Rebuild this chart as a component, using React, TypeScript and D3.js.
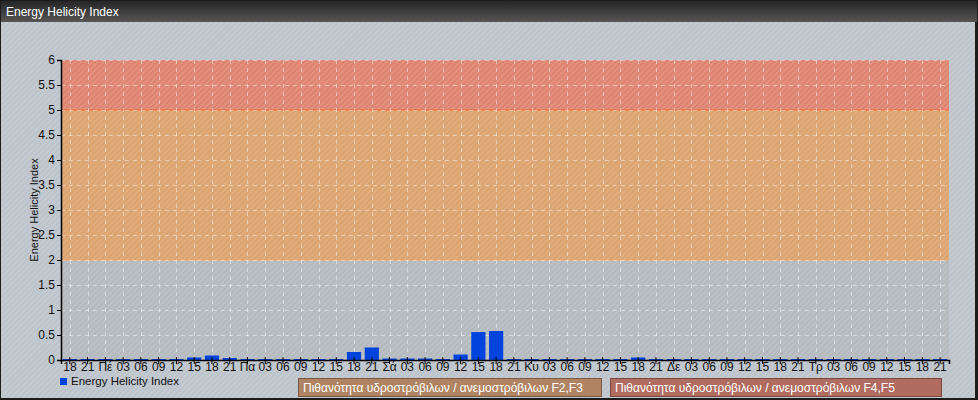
import React, {useEffect, useRef} from 'react';
import * as d3 from 'd3';

const hours = ['03', '06', '09', '12', '15', '18', '21'];
const days = ['Πέ', 'Πα', 'Σά', 'Κυ', 'Δε', 'Τρ'];
const categories: string[] = ['18', '21', ...days.flatMap(d => [d, ...hours])];

const helicity = [
  0.02, 0.02, 0.02, 0.02, 0.02, 0.02, 0.02, 0.05, 0.09, 0.04,
  0.02, 0.02, 0.02, 0.02, 0.02, 0.02, 0.16, 0.25, 0.03, 0.03,
  0.03, 0.02, 0.11, 0.56, 0.58, 0.02, 0.02, 0.02, 0.02, 0.02,
  0.02, 0.02, 0.05, 0.02, 0.02, 0.02, 0.02, 0.02, 0.02, 0.02,
  0.02, 0.02, 0.02, 0.02, 0.02, 0.02, 0.02, 0.02, 0.02, 0.02,
];

const yTicks = [0, 0.5, 1, 1.5, 2, 2.5, 3, 3.5, 4, 4.5, 5, 5.5, 6];

const bands = [
  {from: 0, to: 2, color: '#b4b9be'},
  {from: 2, to: 5, color: '#dca36f'},
  {from: 5, to: 6, color: '#de8370'},
];

const legendBands = [
  {label: 'Πιθανότητα υδροστρόβιλων / ανεμοστρόβιλων F2,F3', fill: '#b08462', stroke: '#7a5a40'},
  {label: 'Πιθανότητα υδροστρόβιλων / ανεμοστρόβιλων F4,F5', fill: '#b06c60', stroke: '#7a4840'},
];

const W = 978;
const H = 400;
const font = '"Liberation Sans", Arial, sans-serif';

export default function App() {
  const ref = useRef<SVGSVGElement>(null);

  useEffect(() => {
    const svg = d3.select(ref.current);
    svg.selectAll('*').remove();

    const margin = {top: 60, left: 61, right: 29, bottom: 40};
    const plotW = W - margin.left - margin.right;
    const plotH = H - margin.top - margin.bottom;

    const defs = svg.append('defs');
    const pat = defs.append('pattern')
        .attr('id', 'hatch')
        .attr('patternUnits', 'userSpaceOnUse')
        .attr('width', 4)
        .attr('height', 4)
        .attr('patternTransform', 'rotate(45)');
    pat.append('rect').attr('width', 2).attr('height', 4).attr('fill', 'rgba(255,255,255,0.11)');

    const grad = defs.append('linearGradient')
        .attr('id', 'titlebar')
        .attr('x1', 0).attr('y1', 0).attr('x2', 0).attr('y2', 1);
    grad.append('stop').attr('offset', '0%').attr('stop-color', '#262626');
    grad.append('stop').attr('offset', '100%').attr('stop-color', '#555555');

    // frame + background
    svg.append('rect').attr('width', W).attr('height', H).attr('fill', '#1c1c1c');
    svg.append('rect').attr('x', 1).attr('y', 1).attr('width', W - 2).attr('height', 21)
        .attr('fill', 'url(#titlebar)');
    svg.append('rect').attr('x', 1).attr('y', 22).attr('width', W - 4).attr('height', H - 24)
        .attr('fill', '#bcc3ca');
    svg.append('rect').attr('x', 1).attr('y', 22).attr('width', W - 4).attr('height', H - 24)
        .attr('fill', 'url(#hatch)');

    svg.append('text')
        .attr('x', 6).attr('y', 16)
        .attr('fill', '#ffffff')
        .style('font-family', font)
        .style('font-size', '12px')
        .text('Energy Helicity Index');

    const x = d3.scaleBand<number>()
        .domain(d3.range(categories.length))
        .range([margin.left, margin.left + plotW])
        .padding(0);

    const y = d3.scaleLinear()
        .domain([0, 6])
        .range([margin.top + plotH, margin.top]);

    const g = svg.append('g');

    // plot bands
    g.selectAll('.band')
        .data(bands)
        .enter().append('rect')
        .attr('x', margin.left)
        .attr('width', plotW)
        .attr('y', d => y(d.to))
        .attr('height', d => y(d.from) - y(d.to))
        .attr('fill', d => d.color);
    g.append('rect')
        .attr('x', margin.left).attr('y', margin.top)
        .attr('width', plotW).attr('height', plotH)
        .attr('fill', 'url(#hatch)');
    g.append('line')
        .attr('x1', margin.left).attr('x2', margin.left + plotW)
        .attr('y1', y(5)).attr('y2', y(5))
        .attr('stroke', '#f07848').attr('stroke-width', 1.5);
    g.append('line')
        .attr('x1', margin.left).attr('x2', margin.left + plotW)
        .attr('y1', y(2) + 0.5).attr('y2', y(2) + 0.5)
        .attr('stroke', '#e4ae82').attr('stroke-width', 1);

    // grid
    g.selectAll('.hgrid')
        .data(yTicks.slice(1))
        .enter().append('line')
        .attr('x1', margin.left).attr('x2', margin.left + plotW)
        .attr('y1', d => Math.round(y(d)) + 0.5)
        .attr('y2', d => Math.round(y(d)) + 0.5)
        .attr('stroke', 'rgba(255,255,255,0.45)')
        .attr('stroke-dasharray', '4,4');
    g.selectAll('.vgrid')
        .data(d3.range(categories.length))
        .enter().append('line')
        .attr('x1', d => Math.round(x(d)! + x.bandwidth() / 2) + 0.5)
        .attr('x2', d => Math.round(x(d)! + x.bandwidth() / 2) + 0.5)
        .attr('y1', margin.top).attr('y2', margin.top + plotH)
        .attr('stroke', 'rgba(255,255,255,0.45)')
        .attr('stroke-dasharray', '4,4');

    // bars
    g.selectAll('.bar')
        .data(helicity)
        .enter().append('rect')
        .attr('x', (d, i) => x(i)! + x.bandwidth() * 0.1)
        .attr('width', x.bandwidth() * 0.8)
        .attr('y', d => y(d))
        .attr('height', d => y(0) - y(d))
        .attr('fill', '#0044dd');

    // axes
    const xAxis = d3.axisBottom(x)
        .tickSize(4)
        .tickFormat(i => categories[i as number]);
    const xg = g.append('g')
        .attr('transform', `translate(0,${y(0)})`)
        .call(xAxis);
    xg.select('.domain').attr('stroke', '#000').attr('stroke-width', 1.5);
    xg.selectAll('.tick line').attr('y1', -3);
    xg.selectAll('text')
        .attr('dy', '0.6em')
        .attr('y', 4)
        .attr('fill', '#111')
        .style('font-family', font)
        .style('font-size', '12px');

    const yAxis = d3.axisLeft(y).tickValues(yTicks).tickSize(4).tickPadding(2)
        .tickFormat(d => String(d));
    const yg = g.append('g')
        .attr('transform', `translate(${margin.left},0)`)
        .call(yAxis);
    yg.select('.domain').attr('stroke', '#000').attr('stroke-width', 1.5);
    yg.selectAll('text')
        .attr('fill', '#111')
        .style('font-family', font)
        .style('font-size', '12px');

    svg.append('text')
        .attr('transform', `translate(38,${y(3)}) rotate(-90)`)
        .attr('text-anchor', 'middle')
        .attr('fill', '#111')
        .style('font-family', font)
        .style('font-size', '11px')
        .text('Energy Helicity Index');

    // legend
    svg.append('rect')
        .attr('x', 60).attr('y', 378).attr('width', 7).attr('height', 7)
        .attr('fill', '#0044dd');
    svg.append('text')
        .attr('x', 71).attr('y', 385)
        .attr('fill', '#111')
        .style('font-family', font)
        .style('font-size', '11.5px')
        .text('Energy Helicity Index');

    const lx = [298, 610];
    const lw = [303, 331];
    legendBands.forEach((b, i) => {
      svg.append('rect')
          .attr('x', lx[i] + 0.5).attr('y', 378.5)
          .attr('width', lw[i]).attr('height', 18)
          .attr('fill', b.fill).attr('stroke', b.stroke);
      svg.append('text')
          .attr('x', lx[i] + 5).attr('y', 392)
          .attr('fill', '#ffffff')
          .style('font-family', font)
          .style('font-size', '12px')
          .text(b.label);
    });
  }, []);

  return <svg ref={ref} width={W} height={H}
              style={{position: 'absolute', left: 0, top: 0, display: 'block'}}></svg>;
}
